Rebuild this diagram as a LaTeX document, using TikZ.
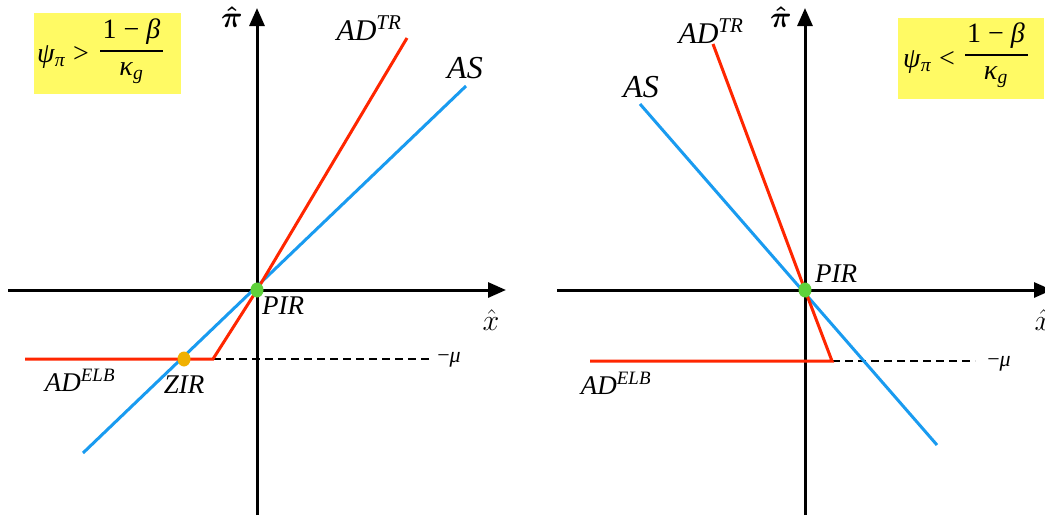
\RequirePackage{fix-cm}
\documentclass[tikz,border=0pt]{standalone}
\usepackage{fontspec}
\usepackage{amsmath,amsbsy}
\setmainfont{Liberation Serif}
\usetikzlibrary{arrows.meta,shapes.geometric}
\definecolor{adred}{RGB}{255,38,0}
\definecolor{asblue}{RGB}{25,155,240}
\definecolor{pirgreen}{RGB}{95,210,60}
\definecolor{ziror}{RGB}{240,176,0}
\definecolor{boxyel}{RGB}{255,250,100}
\begin{document}
\begin{tikzpicture}[x=1pt,y=-1pt,
  axis/.style={line width=3pt,-{Triangle[length=18pt,width=15pt]}},
  curvered/.style={line width=3pt,adred},
  curveblue/.style={line width=3pt,asblue},
  dashline/.style={line width=2.6pt,dash pattern=on 8pt off 5pt},
  lbl/.style={inner sep=0pt,font=\fontsize{30}{34}\selectfont\itshape},
  aslbl/.style={inner sep=0pt,font=\fontsize{32}{36}\selectfont\itshape},
  slbl/.style={inner sep=0pt,font=\fontsize{27}{30}\selectfont\itshape},
  mlbl/.style={inner sep=0pt,font=\fontsize{22}{26}\selectfont},
  hatlbl/.style={inner sep=0pt,font=\fontsize{30}{34}\selectfont},
  boxtxt/.style={inner sep=0pt,font=\fontsize{28}{32}\selectfont},
  yelbox/.style={fill=boxyel,draw=none,inner sep=0pt},
  dot/.style={ellipse,minimum width=13pt,minimum height=15pt,inner sep=0pt,draw=none}]
\useasboundingbox (0,0) rectangle (1045,515);
\fill[white] (0,0) rectangle (1045,515);

% ---------------- left panel ----------------
\node[yelbox,minimum width=147pt,minimum height=81pt] (boxL) at (107.5,53.5) {};
\node[boxtxt,anchor=base west] (psiL) at (37,62) {\textit{ψ}\textsubscript{\textit{π}}};
\node[boxtxt] (gtL) at (81,54) {>};
\node[boxtxt] (numL) at (131.5,32) {1 − \textit{β}};
\node[boxtxt] (denL) at (131.5,73) {\textit{κ}\textsubscript{\textit{g}}};
\coordinate (fracLa) at (100,51);
\coordinate (fracLb) at (163,51);
\draw[line width=2pt] (fracLa) -- (fracLb);

\coordinate (yLb) at (257,515);
\coordinate (yLt) at (257,8);
\coordinate (xLl) at (8,290);
\coordinate (xLr) at (506,290);
\draw[axis] (yLb) -- (yLt);
\draw[axis] (xLl) -- (xLr);
\node[hatlbl] (piL) at (232,17) {$\boldsymbol{\hat{\pi}}$};
\node[hatlbl] (xhL) at (491,320) {$\hat{x}$};

\coordinate (PIRL) at (257,290);
\coordinate (trL) at (407,38);
\coordinate (kinkL) at (213,359);
\coordinate (elbL) at (25,359);
\coordinate (asLa) at (83,453);
\coordinate (asLb) at (466,86);
\coordinate (muL) at (430,359);
\draw[dashline] (kinkL) -- (muL);
\draw[curveblue] (asLa) -- (asLb);
\draw[curvered] (trL) -- (PIRL) -- (kinkL) -- (elbL);
\node[dot,fill=pirgreen] (pirdotL) at (PIRL) {};
\node[dot,fill=ziror] (zirdot) at (184,359) {};

\node[lbl] (adtrL) at (369,28) {AD\textsuperscript{TR}};
\node[aslbl] (asL) at (465,68) {AS};
\node[slbl] (pirL) at (283,306) {PIR};
\node[slbl] (zirL) at (184,385) {ZIR};
\node[slbl] (adelbL) at (80,380) {AD\textsuperscript{ELB}};
\node[mlbl] (mutL) at (449,360) {−\textit{μ}};

% ---------------- right panel ----------------
\node[yelbox,minimum width=146pt,minimum height=81pt] (boxR) at (971,58.5) {};
\node[boxtxt,anchor=base west] (psiR) at (903,67) {\textit{ψ}\textsubscript{\textit{π}}};
\node[boxtxt] (ltR) at (947,59) {<};
\node[boxtxt] (numR) at (996,36) {1 − \textit{β}};
\node[boxtxt] (denR) at (996,77) {\textit{κ}\textsubscript{\textit{g}}};
\coordinate (fracRa) at (965,55);
\coordinate (fracRb) at (1028,55);
\draw[line width=2pt] (fracRa) -- (fracRb);

\coordinate (yRb) at (805,515);
\coordinate (yRt) at (805,8);
\coordinate (xRl) at (557,290);
\coordinate (xRr) at (1052,290);
\draw[axis] (yRb) -- (yRt);
\draw[axis] (xRl) -- (xRr);
\node[hatlbl] (piR) at (781,17) {$\boldsymbol{\hat{\pi}}$};
\node[hatlbl] (xhR) at (1043,320) {$\hat{x}$};

\coordinate (PIRR) at (805,290);
\coordinate (trR) at (713,44);
\coordinate (kinkR) at (832,361);
\coordinate (elbR) at (590,361);
\coordinate (asRa) at (640,104);
\coordinate (asRb) at (937,445);
\coordinate (muR) at (975,361);
\draw[dashline] (kinkR) -- (muR);
\draw[curveblue] (asRa) -- (asRb);
\draw[curvered] (trR) -- (PIRR) -- (kinkR) -- (elbR);
\node[dot,fill=pirgreen] (pirdotR) at (PIRR) {};

\node[lbl] (adtrR) at (711,31) {AD\textsuperscript{TR}};
\node[aslbl] (asR) at (641,87) {AS};
\node[slbl] (pirR) at (836,274) {PIR};
\node[slbl] (adelbR) at (616,383) {AD\textsuperscript{ELB}};
\node[mlbl] (mutR) at (999,364) {−\textit{μ}};
\end{tikzpicture}
\end{document}
